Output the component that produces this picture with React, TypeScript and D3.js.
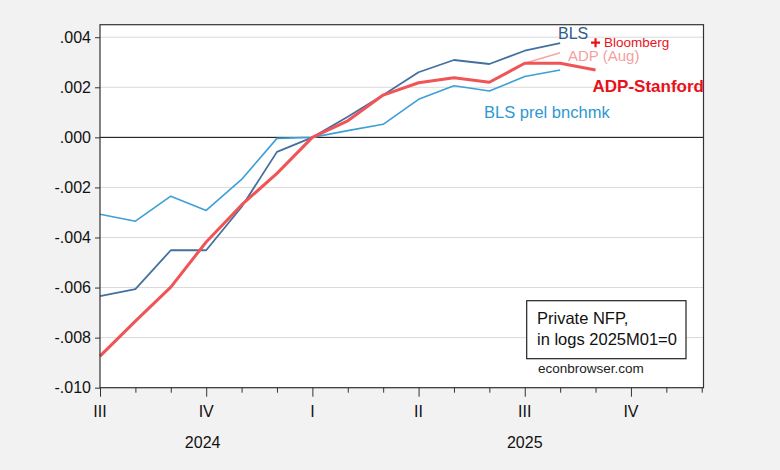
import { useEffect, useRef } from "react";
import * as d3 from "d3";

// month index 0 = 2024M07
const months = [
  "2024M07", "2024M08", "2024M09", "2024M10", "2024M11", "2024M12",
  "2025M01", "2025M02", "2025M03", "2025M04", "2025M05", "2025M06",
  "2025M07", "2025M08", "2025M09",
];

const bls = [
  -0.00634, -0.00606, -0.00451, -0.00451, -0.00278, -0.00058, 0, 0.00082,
  0.00169, 0.0026, 0.00309, 0.00293, 0.00346, 0.00376,
];

const blsPrel = [
  -0.00307, -0.00335, -0.00235, -0.00292, -0.00168, -0.00004, 0, 0.00027,
  0.00052, 0.00152, 0.00206, 0.00185, 0.00243, 0.00269,
];

const adpAug = [
  -0.00874, -0.00734, -0.00598, -0.00418, -0.0027, -0.00144, 0, 0.00066,
  0.00169, 0.00218, 0.00238, 0.0022, 0.00296, 0.00338,
];

const adpStanford = [
  -0.00874, -0.00734, -0.00598, -0.00418, -0.0027, -0.00144, 0, 0.00066,
  0.00169, 0.00218, 0.00238, 0.0022, 0.00296, 0.00296, 0.00269,
];

const bloomberg = { month: 14, value: 0.00378 };

const yTicks = [0.004, 0.002, 0, -0.002, -0.004, -0.006, -0.008, -0.01];
const quarterLabels = ["III", "IV", "I", "II", "III", "IV"];
const yearLabels = [
  { label: "2024", at: 2.9 },
  { label: "2025", at: 12 },
];

const FONT = "'Liberation Sans', Arial, sans-serif";

export default function App() {
  const svgRef = useRef<SVGSVGElement>(null);

  useEffect(() => {
    if (!svgRef.current) return;
    const svg = d3.select(svgRef.current);
    const width = 780;
    const height = 470;
    svg.selectAll("*").remove();
    svg.attr("width", width).attr("height", height);

    const x = d3.scaleLinear().domain([0, 17.05]).range([100, 703.5]);
    const y = d3.scaleLinear().domain([-0.01, 0.0045]).range([387.7, 24.7]);
    const [x0, x1] = x.range();
    const [yb, yt] = y.range();

    // page background
    svg.append("rect").attr("width", width).attr("height", height).attr("fill", "#f2f2f2");
    svg
      .append("rect")
      .attr("x", x0)
      .attr("y", yt)
      .attr("width", x1 - x0)
      .attr("height", yb - yt)
      .attr("fill", "#ffffff");

    // grid lines
    svg
      .append("g")
      .selectAll("line")
      .data(yTicks.filter((d) => d !== 0))
      .enter()
      .append("line")
      .attr("x1", x0)
      .attr("x2", x1)
      .attr("y1", (d) => y(d))
      .attr("y2", (d) => y(d))
      .attr("stroke", "#d9d9d9")
      .attr("stroke-width", 1);

    // zero line
    svg
      .append("line")
      .attr("x1", x0)
      .attr("x2", x1)
      .attr("y1", y(0))
      .attr("y2", y(0))
      .attr("stroke", "#000000")
      .attr("stroke-width", 1);

    // Y axis
    const yAxis = svg
      .append("g")
      .attr("transform", `translate(${x0},0)`)
      .call(
        d3
          .axisLeft(y)
          .tickValues(yTicks)
          .tickSize(5)
          .tickPadding(4)
          .tickFormat((d) => d3.format(".3f")(d as number).replace("0.", ".").replace("−", "-"))
      );
    yAxis.select(".domain").remove();
    yAxis.selectAll("text").attr("font-family", FONT).attr("font-size", 16).attr("fill", "#111");
    yAxis.selectAll("line").attr("stroke", "#333");

    // X axis: monthly ticks, quarters longer
    const xAxis = svg
      .append("g")
      .attr("transform", `translate(0,${yb})`)
      .call(
        d3
          .axisBottom(x)
          .tickValues(d3.range(0, 18))
          .tickSize(5)
          .tickFormat(() => "")
      );
    xAxis.select(".domain").remove();
    xAxis
      .selectAll(".tick line")
      .attr("stroke", "#333")
      .attr("y2", (d) => ((d as number) % 3 === 0 ? 9 : 5));

    svg
      .append("g")
      .selectAll("text")
      .data(quarterLabels)
      .enter()
      .append("text")
      .attr("x", (_, i) => x(i * 3))
      .attr("y", 416.5)
      .attr("text-anchor", "middle")
      .attr("font-family", FONT)
      .attr("font-size", 16)
      .attr("fill", "#111")
      .text((d) => d);

    svg
      .append("g")
      .selectAll("text")
      .data(yearLabels)
      .enter()
      .append("text")
      .attr("x", (d) => x(d.at))
      .attr("y", 448)
      .attr("text-anchor", "middle")
      .attr("font-family", FONT)
      .attr("font-size", 16)
      .attr("fill", "#111")
      .text((d) => d.label);

    // Lines
    const line = d3
      .line<number>()
      .x((_, i) => x(i))
      .y((d) => y(d));

    const series = [
      { data: blsPrel, color: "#3d9fd6", width: 1.6 },
      { data: bls, color: "#44709f", width: 1.8 },
      { data: adpAug, color: "#f7a5a5", width: 1.6 },
      { data: adpStanford, color: "#f05457", width: 3 },
    ];

    svg
      .append("g")
      .selectAll("path")
      .data(series)
      .enter()
      .append("path")
      .attr("d", (d) => line(d.data))
      .attr("fill", "none")
      .attr("stroke", (d) => d.color)
      .attr("stroke-width", (d) => d.width)
      .attr("stroke-linejoin", "round")
      .append("title")
      .text((d) => `${months[0]} - ${months[d.data.length - 1]}`);

    // Bloomberg marker
    const bx = x(bloomberg.month);
    const by = y(bloomberg.value);
    svg
      .append("path")
      .attr("d", `M${bx - 4.5},${by}H${bx + 4.5}M${bx},${by - 4.5}V${by + 4.5}`)
      .attr("stroke", "#e8141c")
      .attr("stroke-width", 2.2);

    // Frame
    svg
      .append("rect")
      .attr("x", x0)
      .attr("y", yt)
      .attr("width", x1 - x0)
      .attr("height", yb - yt)
      .attr("fill", "none")
      .attr("stroke", "#333")
      .attr("stroke-width", 1.2);

    // Series labels
    const labels = [
      { text: "BLS", x: 558, y: 39, size: 16, color: "#2d5b8e", weight: "normal" },
      { text: "Bloomberg", x: 604, y: 46.5, size: 13.5, color: "#e8141c", weight: "normal" },
      { text: "ADP (Aug)", x: 568, y: 61, size: 15, color: "#f4a0a0", weight: "normal" },
      { text: "ADP-Stanford", x: 592.5, y: 91.5, size: 17, color: "#e8101a", weight: "bold" },
      { text: "BLS prel bnchmk", x: 484, y: 118, size: 16.5, color: "#2e98d0", weight: "normal" },
    ];
    svg
      .append("g")
      .selectAll("text")
      .data(labels)
      .enter()
      .append("text")
      .attr("x", (d) => d.x)
      .attr("y", (d) => d.y)
      .attr("font-family", FONT)
      .attr("font-size", (d) => d.size)
      .attr("font-weight", (d) => d.weight)
      .attr("fill", (d) => d.color)
      .text((d) => d.text);

    // Note box
    svg
      .append("rect")
      .attr("x", 526.7)
      .attr("y", 300.7)
      .attr("width", 159.3)
      .attr("height", 58)
      .attr("fill", "#ffffff")
      .attr("stroke", "#222")
      .attr("stroke-width", 1.2);
    svg
      .append("text")
      .attr("x", 537)
      .attr("y", 324)
      .attr("font-family", FONT)
      .attr("font-size", 16.5)
      .attr("fill", "#111")
      .text("Private NFP,");
    svg
      .append("text")
      .attr("x", 537)
      .attr("y", 345)
      .attr("font-family", FONT)
      .attr("font-size", 16.5)
      .attr("fill", "#111")
      .text("in logs 2025M01=0");
    svg
      .append("text")
      .attr("x", 538)
      .attr("y", 372.5)
      .attr("font-family", FONT)
      .attr("font-size", 13.5)
      .attr("fill", "#222")
      .text("econbrowser.com");
  }, []);

  return (
    <div style={{ position: "absolute", left: 0, top: 0 }}>
      <svg ref={svgRef}></svg>
    </div>
  );
}
